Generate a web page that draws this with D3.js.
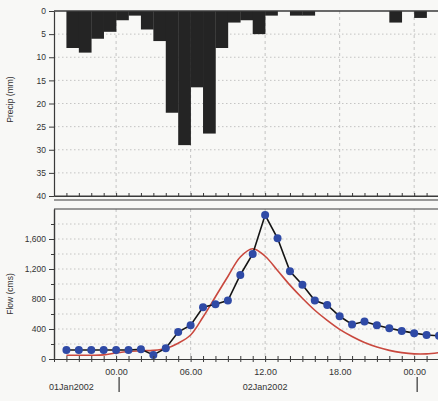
<!DOCTYPE html>
<html>
<head>
<meta charset="utf-8">
<script src="https://cdn.jsdelivr.net/npm/d3@7"></script>
<style>
  html, body { margin: 0; padding: 0; background: #f8f8f6; }
  svg { display: block; font-family: "Liberation Sans", "DejaVu Sans", sans-serif; }
</style>
</head>
<body>
<script>
// hours counted from 02Jan2002 00:00
const precipHours = [-4, -3, -2, -1, 0, 1, 2, 3, 4, 5, 6, 7, 8, 9, 10, 11, 12, 13, 14, 15, 16, 17, 18, 19, 20, 21, 22, 23, 24, 25];
const precipMm    = [8, 9, 6, 4.5, 2, 1, 4, 6.5, 22, 29, 16.5, 26.5, 8, 2.5, 2, 5, 1, 0, 1, 1, 0, 0, 0, 0, 0, 0, 2.5, 0, 1.5, 0];

const flowHours   = [-4, -3, -2, -1, 0, 1, 2, 3, 4, 5, 6, 7, 8, 9, 10, 11, 12, 13, 14, 15, 16, 17, 18, 19, 20, 21, 22, 23, 24, 25, 26];
const observedCms = [120, 120, 120, 120, 120, 120, 130, 55, 145, 360, 450, 690, 730, 780, 1120, 1400, 1920, 1610, 1170, 990, 780, 720, 570, 460, 500, 450, 410, 375, 345, 320, 310];
const computedCms = [50, 50, 50, 55, 80, 100, 110, 115, 140, 210, 320, 560, 830, 1100, 1360, 1470, 1370, 1180, 985, 810, 650, 515, 395, 300, 220, 160, 115, 85, 68, 68, 85];

const precipTicks = [0, 5, 10, 15, 20, 25, 30, 35, 40];
const flowTicks   = [0, 400, 800, 1200, 1600];
const dayLabels   = ["01Jan2002", "02Jan2002"];

const W = 438, H = 401;
const left = 54, right = 439;
const top1 = 11, bot1 = 196;
const top2 = 209, bot2 = 359;

const hourDate = h => new Date(2002, 0, 2, 0, h * 60);

const svg = d3.select("body").append("svg").attr("width", W).attr("height", H);

const x = d3.scaleTime()
  .domain([hourDate(-5), hourDate(26)])
  .range([left, right]);

const yP = d3.scaleLinear().domain([0, 40]).range([top1, bot1]);
const yQ = d3.scaleLinear().domain([0, 2000]).range([bot2, top2]);

svg.append("defs").append("clipPath").attr("id", "clip")
  .append("rect").attr("x", left).attr("y", 0).attr("width", W - left).attr("height", H);

const sixHours = d3.timeHour.every(6).range(hourDate(-5), hourDate(27));
const everyHour = d3.timeHour.every(1).range(hourDate(-5), hourDate(27)).filter(d => x(d) <= W);

// ---- gridlines
function grid(yScale, values, y0, y1) {
  const g = svg.append("g").attr("stroke", "#b8b8b8").attr("stroke-width", 0.8).attr("fill", "none");
  g.selectAll("line.h").data(values).enter().append("line")
    .attr("x1", left).attr("x2", W)
    .attr("y1", d => yScale(d)).attr("y2", d => yScale(d))
    .attr("stroke-dasharray", "1.5,2.5");
  g.selectAll("line.v").data(sixHours).enter().append("line")
    .attr("x1", d => x(d)).attr("x2", d => x(d))
    .attr("y1", y0).attr("y2", y1)
    .attr("stroke-dasharray", "3,3");
}
grid(yP, precipTicks.slice(1, -1), top1, bot1);
grid(yQ, [200, 400, 600, 800, 1000, 1200, 1400, 1600, 1800], top2, bot2);

// ---- precip bars
svg.append("g").attr("clip-path", "url(#clip)")
  .selectAll("rect").data(precipHours.map((h, i) => [h, precipMm[i]]).filter(d => d[1] > 0))
  .enter().append("rect")
  .attr("x", d => x(hourDate(d[0])))
  .attr("width", d => x(hourDate(d[0] + 1)) - x(hourDate(d[0])) + 0.3)
  .attr("y", yP(0))
  .attr("height", d => yP(d[1]) - yP(0))
  .attr("fill", "#242424");

// ---- flow lines
const flowG = svg.append("g").attr("clip-path", "url(#clip)");

flowG.append("path")
  .datum(flowHours.map((h, i) => [h, computedCms[i]]))
  .attr("fill", "none").attr("stroke", "#c9483e").attr("stroke-width", 1.6)
  .attr("d", d3.line().curve(d3.curveCatmullRom.alpha(0.5))
    .x(d => x(hourDate(d[0]))).y(d => yQ(d[1])));

const obs = flowHours.map((h, i) => [h, observedCms[i]]);
flowG.append("path")
  .datum(obs)
  .attr("fill", "none").attr("stroke", "#151515").attr("stroke-width", 1.6)
  .attr("d", d3.line().x(d => x(hourDate(d[0]))).y(d => yQ(d[1])));

flowG.selectAll("circle").data(obs).enter().append("circle")
  .attr("cx", d => x(hourDate(d[0]))).attr("cy", d => yQ(d[1]))
  .attr("r", 4).attr("fill", "#2f4aa6");

// ---- frames
const frame = svg.append("g").attr("stroke", "#3a3a3a").attr("fill", "none");
frame.append("line").attr("x1", left).attr("x2", W).attr("y1", top1).attr("y2", top1).attr("stroke-width", 1.6);
frame.append("line").attr("x1", left).attr("x2", W).attr("y1", bot1).attr("y2", bot1).attr("stroke-width", 1.2);
frame.append("line").attr("x1", left).attr("x2", W).attr("y1", bot1 + 4).attr("y2", bot1 + 4).attr("stroke-width", 1);
frame.append("line").attr("x1", left).attr("x2", W).attr("y1", top2).attr("y2", top2).attr("stroke-width", 1.2);

// ---- axes
function styleAxis(g) {
  g.select(".domain").attr("stroke", "#3a3a3a").attr("stroke-width", 1.2);
  g.selectAll(".tick line").attr("stroke", "#3a3a3a");
  g.selectAll(".tick text").attr("fill", "#333").attr("font-size", 8.5);
}

svg.append("g").attr("transform", `translate(${left},0)`)
  .call(d3.axisLeft(yP).tickValues(precipTicks).tickSize(5).tickSizeOuter(0).tickPadding(3))
  .call(styleAxis);

svg.append("g").attr("transform", `translate(${left},0)`)
  .call(d3.axisLeft(yQ).tickValues(flowTicks).tickSize(5).tickSizeOuter(0).tickPadding(3)
    .tickFormat(d3.format(",")))
  .call(styleAxis);

svg.append("g").attr("transform", `translate(${left},0)`)
  .call(d3.axisLeft(yQ).tickValues([200, 600, 1000, 1400, 1800]).tickSize(3).tickFormat("").tickSizeOuter(0))
  .call(styleAxis);

// hourly ticks along both lower edges
const fmt = d3.timeFormat("%H.%M");
svg.append("g").attr("transform", `translate(0,${bot2})`)
  .call(d3.axisBottom(x).tickValues(everyHour).tickSize(3).tickSizeOuter(0).tickPadding(7)
    .tickFormat(d => d.getHours() % 6 === 0 ? fmt(d) : ""))
  .call(styleAxis)
  .call(g => g.selectAll(".tick text").attr("font-size", 9));
svg.append("g").attr("transform", `translate(0,${bot2})`)
  .call(d3.axisTop(x).tickValues(everyHour).tickSize(3).tickFormat("").tickSizeOuter(0))
  .call(styleAxis);
svg.append("g").attr("transform", `translate(0,${bot1})`)
  .call(d3.axisTop(x).tickValues(everyHour).tickSize(3).tickFormat("").tickSizeOuter(0))
  .call(styleAxis);

// day row
const dayBounds = [hourDate(0), hourDate(24)];
svg.selectAll("line.day").data(dayBounds).enter().append("line")
  .attr("x1", d => x(d) + 3).attr("x2", d => x(d) + 3)
  .attr("y1", bot2 + 18).attr("y2", bot2 + 33)
  .attr("stroke", "#333").attr("stroke-width", 1.2);

const dayCenters = [hourDate(-3.6), hourDate(12)];
svg.selectAll("text.day").data(dayLabels).enter().append("text")
  .attr("x", (d, i) => x(dayCenters[i]))
  .attr("y", bot2 + 31)
  .attr("text-anchor", "middle").attr("font-size", 9).attr("fill", "#333")
  .text(d => d);

// axis titles
svg.append("text")
  .attr("transform", `translate(13,${(top1 + bot1) / 2 - 4})rotate(-90)`)
  .attr("text-anchor", "middle").attr("font-size", 8.5).attr("fill", "#333")
  .text("Precip (mm)");
svg.append("text")
  .attr("transform", `translate(13,${(top2 + bot2) / 2 + 10})rotate(-90)`)
  .attr("text-anchor", "middle").attr("font-size", 8.5).attr("fill", "#333")
  .text("Flow (cms)");
</script>
</body>
</html>
